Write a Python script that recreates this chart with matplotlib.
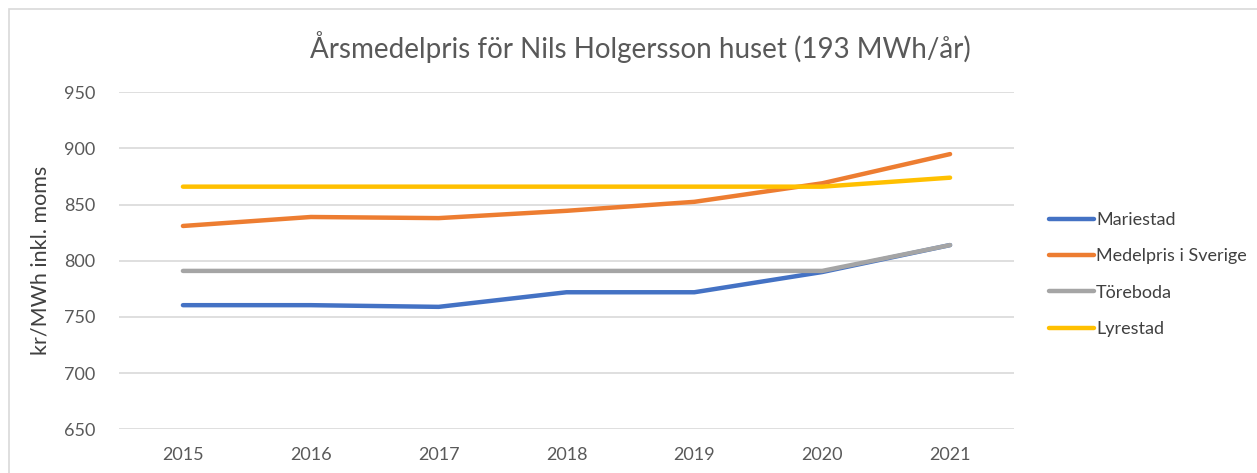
import matplotlib
matplotlib.use("Agg")
import matplotlib.pyplot as plt
from matplotlib.patches import Rectangle

years = ["2015", "2016", "2017", "2018", "2019", "2020", "2021"]
mariestad = [760.5, 760.5, 759, 772, 772, 790, 814]
medelpris = [831, 839, 838, 844.5, 852.5, 869, 895]
toreboda = [791, 791, 791, 791, 791, 791, 814]
lyrestad = [866, 866, 866, 866, 866, 866, 874]

series = [
    ("Mariestad", mariestad, "#4472C4"),
    ("Medelpris i Sverige", medelpris, "#ED7D31"),
    ("Töreboda", toreboda, "#A5A5A5"),
    ("Lyrestad", lyrestad, "#FFC000"),
]

plt.rcParams['font.family'] = ['Lato', 'DejaVu Sans']

fig = plt.figure(figsize=(12.57, 4.73), dpi=100)
W, H = 1257, 473
ax = fig.add_axes([119 / W, 1 - 429.3 / H, (1014 - 119) / W, (429.3 - 92.3) / H])

x = list(range(len(years)))
for name, vals, col in series:
    ax.plot(x, vals, color=col, lw=3.2, solid_capstyle='round', label=name)

ax.set_xlim(-0.5, 6.5)
ax.set_ylim(650, 950)
ax.set_yticks(range(650, 951, 50))
ax.set_xticks(x)
ax.set_xticklabels(years)
ax.grid(axis='y', color='#D9D9D9', lw=1.2)
ax.set_axisbelow(True)
for s in ax.spines.values():
    s.set_visible(False)
ax.tick_params(length=0, labelsize=13, colors='#595959')
ax.tick_params(axis='y', pad=17)
ax.tick_params(axis='x', pad=13)
ax.set_ylabel("kr/MWh inkl. moms", fontsize=15.5, color='#404040', labelpad=10)

fig.text(640 / W, 1 - 47 / H, "Årsmedelpris för Nils Holgersson huset (193 MWh/år)",
         ha='center', va='center', fontsize=20, color='#595959')

leg = ax.legend(loc='upper left', bbox_to_anchor=(1033 / W, 1 - 196 / H),
                bbox_transform=fig.transFigure, frameon=False, fontsize=13,
                handlelength=2.5, handletextpad=0.1, labelspacing=1.12)
for t in leg.get_texts():
    t.set_color('#404040')

fig.patches.append(Rectangle((9 / W, -0.1), 1.2, 1 - 9 / H + 0.1, transform=fig.transFigure,
                             fill=False, edgecolor='#D9D9D9', lw=1.2))

fig.savefig("out.png", dpi=100, facecolor='white')
